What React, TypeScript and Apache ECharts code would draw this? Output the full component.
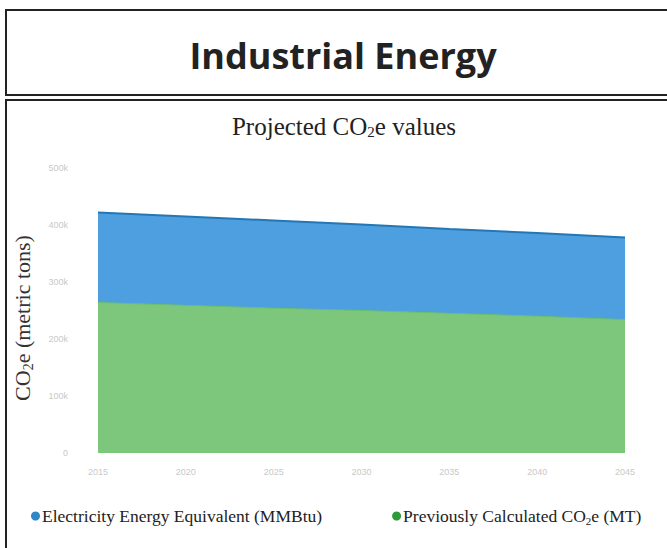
import React, { useEffect, useRef } from "react";
import * as echarts from "echarts";

const years = ["2015", "2020", "2025", "2030", "2035", "2040", "2045"];
const electricity = [422, 415, 408, 401, 393, 386, 378];
const previous = [264, 259, 254, 250, 245, 240, 234];
const yTicks = ["0", "100k", "200k", "300k", "400k", "500k"];

export default function App() {
  const ref = useRef<HTMLDivElement>(null);
  useEffect(() => {
    document.body.style.margin = "0";
    const chart = echarts.init(ref.current!, null, { renderer: "svg" });
    chart.setOption({
      animation: false,
      backgroundColor: "#ffffff",
      graphic: [
        { type: "rect", shape: { x: 6, y: 10, width: 680, height: 85 }, style: { fill: "none", stroke: "#222", lineWidth: 2 } },
        { type: "rect", shape: { x: 6, y: 100, width: 680, height: 470 }, style: { fill: "none", stroke: "#222", lineWidth: 2 } },
        {
          type: "text", x: 343, y: 55,
          style: { text: "Industrial Energy", font: "bold 36px 'Open Sans', sans-serif", fill: "#222", align: "center", verticalAlign: "middle" },
        },
        {
          type: "text", x: 344, y: 126,
          style: {
            text: "{a|Projected CO}{s|2}{a|e values}",
            align: "center", verticalAlign: "middle",
            rich: {
              a: { font: "25px 'Liberation Serif', serif", fill: "#222" },
              s: { font: "15px 'Liberation Serif', serif", fill: "#222", padding: [12, 0, 0, 0] },
            },
          },
        },
        {
          type: "text", x: 22, y: 318, rotation: Math.PI / 2,
          style: {
            text: "{a|CO}{s|2}{a|e (metric tons)}",
            align: "center", verticalAlign: "middle",
            rich: {
              a: { font: "22px 'Liberation Serif', serif", fill: "#333" },
              s: { font: "14px 'Liberation Serif', serif", fill: "#333", padding: [12, 0, 0, 0] },
            },
          },
        },
      ],
      legend: {
        left: 26, top: 502,
        icon: "circle", itemWidth: 9, itemHeight: 9, itemGap: 70,
        textStyle: { fontFamily: "'Liberation Serif', serif", fontSize: 17.5, color: "#222", padding: [0, 0, 0, -3],
          rich: { s: { fontSize: 11, fontFamily: "'Liberation Serif', serif", color: "#222", padding: [9, 0, 0, 0] } } },
        formatter: (n: string) => n.replace("CO2e", "CO{s|2}e"),
        data: ["Electricity Energy Equivalent (MMBtu)", "Previously Calculated CO2e (MT)"],
      },
      grid: { left: 98, right: 42, top: 168, bottom: 95 },
      xAxis: {
        type: "category", data: years, boundaryGap: false,
        axisLine: { show: false }, axisTick: { show: false },
        axisLabel: { color: "#c8c8c8", fontSize: 9, margin: 14 },
      },
      yAxis: {
        type: "value", min: 0, max: 500, interval: 100,
        splitLine: { show: false }, axisLine: { show: false }, axisTick: { show: false },
        axisLabel: { color: "#c8c8c8", fontSize: 9, margin: 30, formatter: (v: number) => yTicks[v / 100] },
      },
      series: [
        {
          name: "Electricity Energy Equivalent (MMBtu)", type: "line", data: electricity,
          symbol: "none", color: "#2f86c8",
          lineStyle: { color: "#2477b5", width: 2 },
          areaStyle: { color: "#4d9fe0", opacity: 1 },
        },
        {
          name: "Previously Calculated CO2e (MT)", type: "line", data: previous,
          symbol: "none", color: "#2f9a3a",
          lineStyle: { color: "#6cc06e", width: 1 },
          areaStyle: { color: "#7cc77b", opacity: 1 },
        },
      ],
    });
    return () => chart.dispose();
  }, []);
  return <div ref={ref} style={{ width: 667, height: 548 }} />;
}
